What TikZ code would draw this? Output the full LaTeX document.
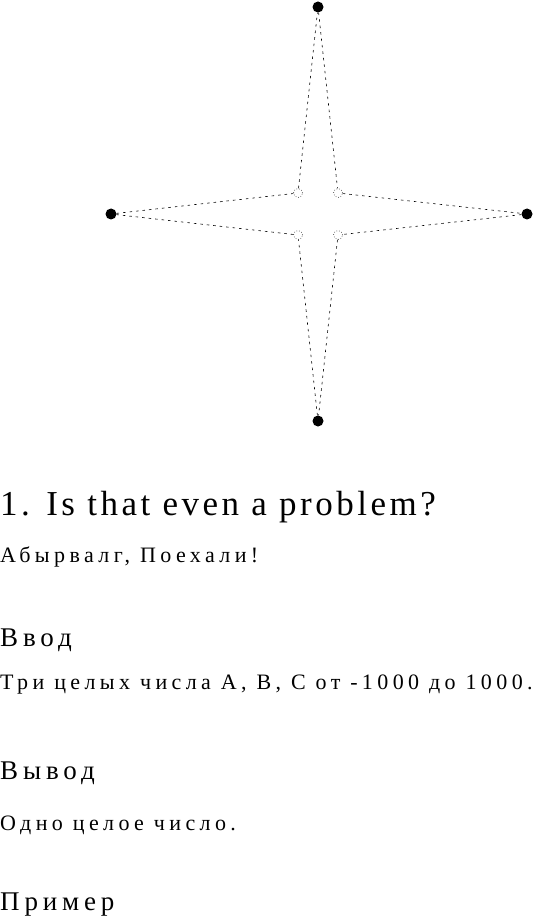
\documentclass[tikz,border=0pt]{standalone}
\usepackage{fontspec}
\setmainfont{Liberation Serif}
\newcommand\titlefont{\fontsize{35}{40}\selectfont\addfontfeatures{LetterSpace=10}}
\newcommand\sectfont{\fontsize{27}{32}\selectfont\addfontfeatures{LetterSpace=18}}
\newcommand\parafont{\fontsize{22}{26}\selectfont\addfontfeatures{LetterSpace=20}}
\tikzset{
  tip/.style={circle,fill,inner sep=0pt,minimum size=11pt},
  corner/.style={circle,draw,dotted,line width=0.6pt,inner sep=0pt,minimum size=9pt},
  ray/.style={dash pattern=on 2.5pt off 4pt,line width=0.6pt},
  textline/.style={anchor=base west,inner sep=0pt},
}
\begin{document}
\begin{tikzpicture}[x=1pt,y=-1pt]
\useasboundingbox (0,0) rectangle (557,917);
\node[tip] (n) at (318,7) {};
\node[tip] (s) at (318,421) {};
\node[tip] (w) at (111,214) {};
\node[tip] (e) at (527,214) {};
\node[corner] (nw) at (298,193) {};
\node[corner] (ne) at (338,193) {};
\node[corner] (sw) at (298,235) {};
\node[corner] (se) at (338,235) {};
\foreach \a/\b in {n/ne,ne/e,e/se,se/s,s/sw,sw/w,w/nw,nw/n}
  \draw[ray] (\a) -- (\b);
\node[textline] (title) at (0,515) {\titlefont 1. Is that even a problem?};
\node[textline] (intro) at (0,562) {\parafont Абырвалг, Поехали!};
\node[textline] (inhead) at (0,646) {\sectfont Ввод};
\node[textline] (intext) at (0,689) {\parafont Три целых числа A, B, C от -1000 до 1000.};
\node[textline] (outhead) at (0,779) {\sectfont Вывод};
\node[textline] (outtext) at (0,830) {\parafont Одно целое число.};
\node[textline] (samplehead) at (0,910) {\sectfont Пример};
\end{tikzpicture}
\end{document}
